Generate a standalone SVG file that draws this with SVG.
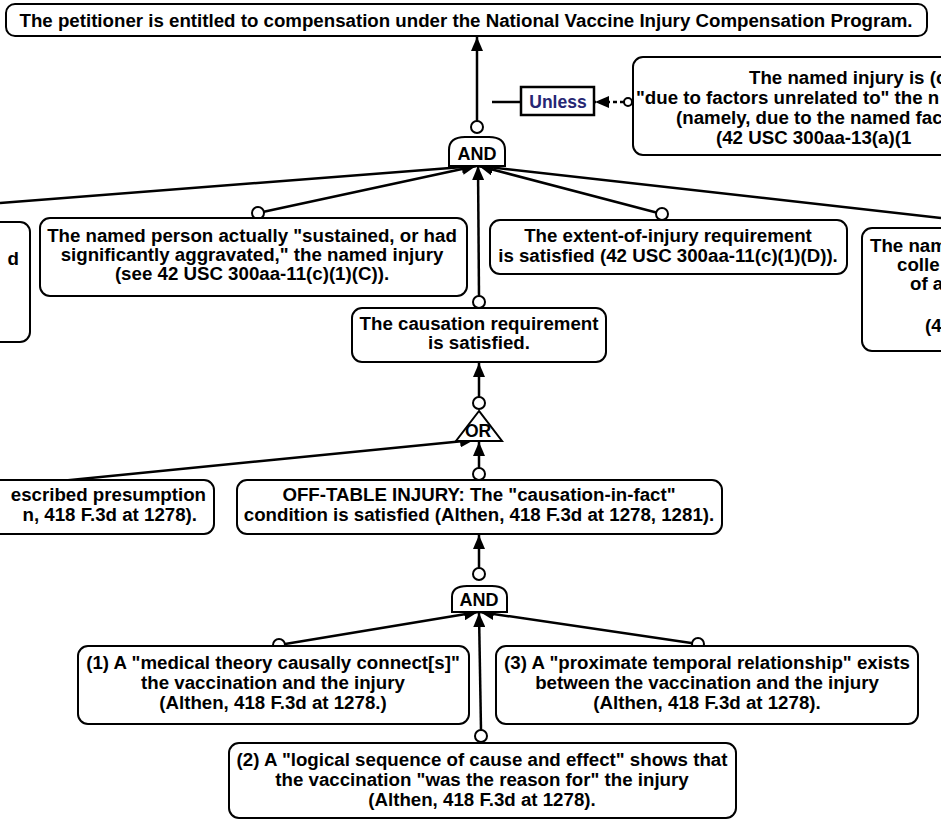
<svg xmlns="http://www.w3.org/2000/svg" width="941" height="821" viewBox="0 0 941 821">
<defs>
<style>
.box{fill:#fff;stroke:#000;stroke-width:2}
.t{font-family:"Liberation Sans",Arial,sans-serif;font-weight:bold;font-size:18.7px;fill:#000;text-anchor:middle}
.s{text-anchor:start}
.e{text-anchor:end}
.g{font-size:18px}
.c{fill:none;stroke:#000;stroke-width:2.5}
.dot{fill:#fff;stroke:#000;stroke-width:2}
.gate{fill:#fff;stroke:#000;stroke-width:2}
</style>
<marker id="ah" markerUnits="userSpaceOnUse" markerWidth="14" markerHeight="12" refX="14" refY="6" orient="auto">
<path d="M0,0 L14,6 L0,12 Z" fill="#000"/>
</marker>
</defs>

<g id="connectors">
<line class="c" x1="477" y1="121" x2="477" y2="37" marker-end="url(#ah)"/>
<line class="c" x1="492" y1="102" x2="521" y2="102"/>
<line class="c" x1="624" y1="102" x2="595" y2="102" stroke-dasharray="4 3" stroke-width="1.5" marker-end="url(#ah)"/>
<line class="c" x1="0" y1="203" x2="476" y2="166" marker-end="url(#ah)"/>
<line class="c" x1="258" y1="213" x2="476" y2="166" marker-end="url(#ah)"/>
<line class="c" x1="479" y1="296" x2="478" y2="166" marker-end="url(#ah)"/>
<line class="c" x1="662" y1="214" x2="479" y2="166" marker-end="url(#ah)"/>
<line class="c" x1="941" y1="218" x2="479" y2="166" marker-end="url(#ah)"/>
<line class="c" x1="479" y1="397" x2="479" y2="363" marker-end="url(#ah)"/>
<line class="c" x1="0" y1="487" x2="474" y2="440" marker-end="url(#ah)"/>
<line class="c" x1="479" y1="468" x2="479" y2="442" marker-end="url(#ah)"/>
<line class="c" x1="479" y1="568" x2="479" y2="535" marker-end="url(#ah)"/>
<line class="c" x1="279" y1="645" x2="478" y2="612" marker-end="url(#ah)"/>
<line class="c" x1="698" y1="644" x2="480" y2="612" marker-end="url(#ah)"/>
<line class="c" x1="481" y1="730" x2="479" y2="613" marker-end="url(#ah)"/>
<circle class="dot" cx="628" cy="102" r="4" stroke-width="1.2"/>
<circle class="dot" cx="258" cy="213" r="6"/>
<circle class="dot" cx="479" cy="302" r="6"/>
<circle class="dot" cx="662" cy="214" r="6"/>
<circle class="dot" cx="479" cy="474" r="6"/>
<circle class="dot" cx="279" cy="645" r="6"/>
<circle class="dot" cx="698" cy="644" r="6"/>
<circle class="dot" cx="481" cy="736" r="6"/>
</g>

<g id="title">
<rect class="box" x="6" y="4" width="921" height="32" rx="9"/>
<text class="t" x="466" y="26.5">The petitioner is entitled to compensation under the National Vaccine Injury Compensation Program.</text>
</g>

<g id="and-top">
<circle class="dot" cx="477" cy="127" r="6"/>
<path class="gate" d="M449,166 V150 C449,140 456,137 465,137 H489 C498,137 505,140 505,150 V166 Z"/>
<text class="t g" x="477" y="160">AND</text>
</g>

<g id="unless">
<rect x="521" y="87" width="73" height="28" fill="#fff" stroke="#000" stroke-width="2.5"/>
<text class="t" x="558" y="108" style="fill:#262673;font-size:17.5px">Unless</text>
</g>

<g id="unrelated-factors">
<rect class="box" x="633" y="57" width="330" height="98" rx="10"/>
<text class="t s" x="749" y="84">The named injury is (o</text>
<text class="t s" x="636" y="104">"due to factors unrelated to" the n</text>
<text class="t s" x="676" y="124">(namely, due to the named fac</text>
<text class="t s" x="716" y="144">(42 USC 300aa-13(a)(1</text>
</g>

<g id="left-top">
<rect class="box" x="-20" y="222" width="50" height="120" rx="10"/>
<text class="t e" x="19" y="265">d</text>
</g>

<g id="sustained">
<rect class="box" x="40" y="218" width="427" height="78" rx="10"/>
<text class="t" x="252" y="242">The named person actually "sustained, or had</text>
<text class="t" x="252" y="261">significantly aggravated," the named injury</text>
<text class="t" x="252" y="280">(see 42 USC 300aa-11(c)(1)(C)).</text>
</g>

<g id="extent">
<rect class="box" x="490" y="220" width="357" height="54" rx="10"/>
<text class="t" x="668" y="242">The extent-of-injury requirement</text>
<text class="t" x="668" y="262">is satisfied (42 USC 300aa-11(c)(1)(D)).</text>
</g>

<g id="right-top">
<rect class="box" x="862" y="228" width="120" height="123" rx="10"/>
<text class="t s" x="870" y="252">The nam</text>
<text class="t s" x="897" y="271">colle</text>
<text class="t s" x="910" y="290">of a</text>
<text class="t s" x="925" y="332">(4</text>
</g>

<g id="causation">
<rect class="box" x="352" y="308" width="254" height="54" rx="10"/>
<text class="t" x="479" y="330">The causation requirement</text>
<text class="t" x="479" y="349">is satisfied.</text>
</g>

<g id="or-gate">
<circle class="dot" cx="479" cy="403" r="6"/>
<path class="gate" d="M479,411 L456,441 H502 Z"/>
<text class="t" x="478" y="437" style="font-size:17.5px">OR</text>
</g>

<g id="presumption">
<rect class="box" x="-30" y="480" width="244" height="54" rx="10"/>
<text class="t e" x="206" y="501">escribed presumption</text>
<text class="t e" x="197" y="521">n, 418 F.3d at 1278).</text>
</g>

<g id="off-table">
<rect class="box" x="237" y="480" width="485" height="54" rx="10"/>
<text class="t" x="479" y="501">OFF-TABLE INJURY: The "causation-in-fact"</text>
<text class="t" x="479" y="521">condition is satisfied (Althen, 418 F.3d at 1278, 1281).</text>
</g>

<g id="and-bottom">
<circle class="dot" cx="479" cy="574" r="6"/>
<path class="gate" d="M452,612 V597 C452,589 458,586 467,586 H492 C501,586 507,589 507,597 V612 Z"/>
<text class="t g" x="479" y="606">AND</text>
</g>

<g id="medical-theory">
<rect class="box" x="78" y="646" width="391" height="78" rx="10"/>
<text class="t" x="273" y="669">(1) A "medical theory causally connect[s]"</text>
<text class="t" x="273" y="689">the vaccination and the injury</text>
<text class="t" x="273" y="709">(Althen, 418 F.3d at 1278.)</text>
</g>

<g id="temporal">
<rect class="box" x="496" y="646" width="422" height="78" rx="10"/>
<text class="t" x="707" y="669">(3) A "proximate temporal relationship" exists</text>
<text class="t" x="707" y="689">between the vaccination and the injury</text>
<text class="t" x="707" y="709">(Althen, 418 F.3d at 1278).</text>
</g>

<g id="logical-sequence">
<rect class="box" x="229" y="743" width="507" height="75" rx="10"/>
<text class="t" x="482" y="766">(2) A "logical sequence of cause and effect" shows that</text>
<text class="t" x="482" y="786">the vaccination "was the reason for" the injury</text>
<text class="t" x="482" y="806">(Althen, 418 F.3d at 1278).</text>
</g>
</svg>
